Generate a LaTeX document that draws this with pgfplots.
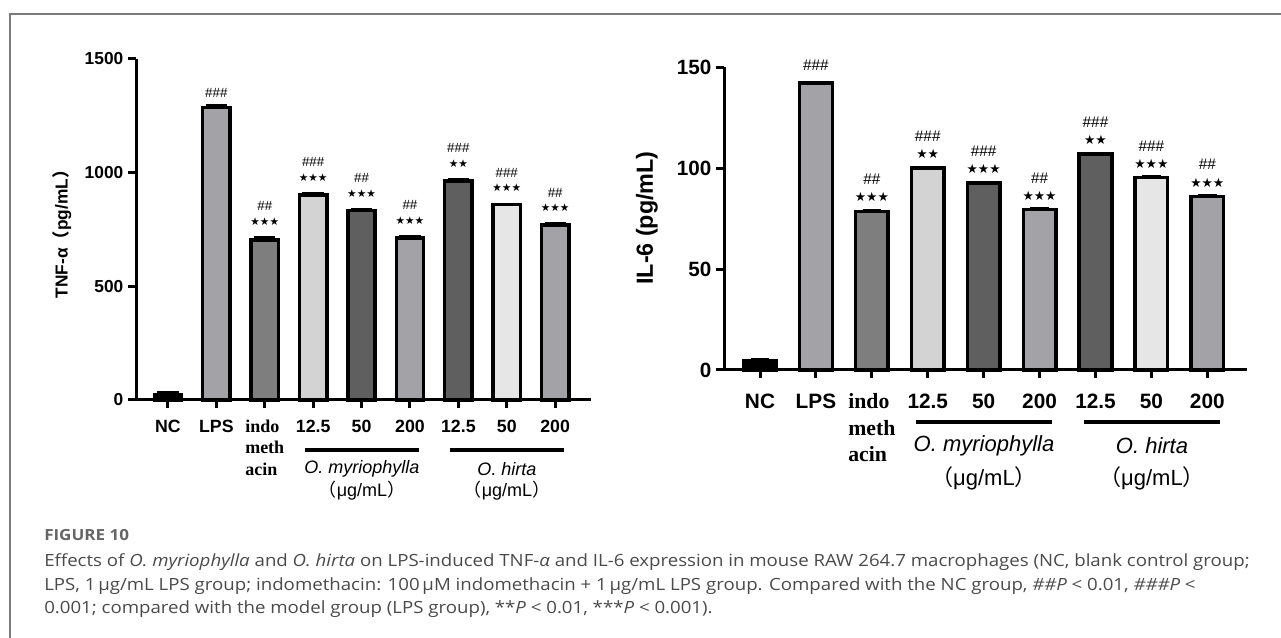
\documentclass[border=0pt]{standalone}
\usepackage{fontspec}
\setmainfont{Liberation Sans}
\newfontfamily\timesf{Liberation Serif}
\newfontfamily\cjk{Noto Sans CJK SC}
\newfontfamily\capfont[FakeStretch=1.11]{Open Sans}
\newfontfamily\symfont{DejaVu Sans}
\usepackage{pgfplots}
\pgfplotsset{compat=1.18}

\definecolor{cLPS}{HTML}{A2A2A7}
\definecolor{cIndo}{HTML}{7E7E7E}
\definecolor{cLight}{HTML}{D3D3D3}
\definecolor{cDark}{HTML}{5F5F5F}
\definecolor{cVlight}{HTML}{E6E6E6}
\definecolor{capgray}{HTML}{4A4A4A}
\definecolor{figgray}{HTML}{666666}
\definecolor{framegray}{HTML}{7A7A7A}

\newcommand\starsL[1]{{\symfont\fontsize{8}{9}\selectfont #1}}
\newcommand\hashL[1]{{\fontsize{10}{11}\selectfont #1}}
\newcommand\starsR[1]{{\symfont\fontsize{9.5}{10}\selectfont #1}}
\newcommand\hashR[1]{{\fontsize{11.5}{12}\selectfont #1}}

\pgfplotsset{
  mybars/.style={
    scale only axis, clip=false,
    axis x line*=bottom, axis y line*=left,
    axis line style={line width=2.25pt, black},
    tick align=outside,
    tick style={line width=2.25pt, black},
    major tick length=6pt,
    ybar, bar shift=0pt,
    xtick={0,...,8},
    /pgf/number format/assume math mode=true,
    /pgf/number format/1000 sep={},
    every axis plot/.append style={draw=black, line width=2.6pt},
    error bars/y dir=plus, error bars/y explicit,
    error bars/error bar style={line width=1.6pt, black},
  },
}

\begin{document}
\begin{tikzpicture}[x=0.75pt,y=0.75pt]
\path[use as bounding box] (0,0) rectangle (1281,638);
\draw[framegray, line width=1.1pt] (10,-10) -- (10,624) -- (1300,624);

% ---------------- Left: TNF-alpha ----------------
\begin{axis}[mybars,
  at={(102pt,178.5pt)}, anchor=south west,
  width=341.25pt, height=255.75pt,
  xmin=-0.66, xmax=8.74, ymin=0, ymax=1500,
  ytick={0,500,1000,1500},
  bar width=20.5pt,
  yticklabel style={font=\bfseries\fontsize{13}{15}\selectfont},
  xticklabel style={font=\bfseries\fontsize{13.3}{15}\selectfont, anchor=north, text height=9.6pt, yshift=-5pt},
  xticklabels={NC, LPS, {\timesf\fontsize{13.5}{16.1}\selectfont\begin{tabular}[t]{@{}l@{}}indo\\meth\\acin\end{tabular}}, 12.5, 50, 200, 12.5, 50, 200},
  error bars/error mark options={rotate=90, mark size=8pt, line width=2pt, black},
]
\addplot[fill=black] coordinates {(0,22) +- (0,12)};
\addplot[fill=cLPS] coordinates {(1,1286) +- (0,8) (5,713) +- (0,6) (8,770) +- (0,5)};
\addplot[fill=cIndo] coordinates {(2,704) +- (0,10)};
\addplot[fill=cLight] coordinates {(3,902) +- (0,6)};
\addplot[fill=cDark] coordinates {(4,833) +- (0,5) (6,963) +- (0,6)};
\addplot[fill=cVlight] coordinates {(7,859) +- (0,3)};

\node at (axis cs:1,1294) [yshift=9.5pt] {\hashL{\#\#\#}};
\node at (axis cs:2,714) [yshift=12pt] {\starsL{★★★}};
\node at (axis cs:2,714) [yshift=23.5pt] {\hashL{\#\#}};
\node at (axis cs:3,908) [yshift=12pt] {\starsL{★★★}};
\node at (axis cs:3,908) [yshift=23.5pt] {\hashL{\#\#\#}};
\node at (axis cs:4,838) [yshift=12pt] {\starsL{★★★}};
\node at (axis cs:4,838) [yshift=23.5pt] {\hashL{\#\#}};
\node at (axis cs:5,719) [yshift=12pt] {\starsL{★★★}};
\node at (axis cs:5,719) [yshift=23.5pt] {\hashL{\#\#}};
\node at (axis cs:6,969) [yshift=12pt] {\starsL{★★}};
\node at (axis cs:6,969) [yshift=23.5pt] {\hashL{\#\#\#}};
\node at (axis cs:7,862) [yshift=12pt] {\starsL{★★★}};
\node at (axis cs:7,862) [yshift=23.5pt] {\hashL{\#\#\#}};
\node at (axis cs:8,775) [yshift=12pt] {\starsL{★★★}};
\node at (axis cs:8,775) [yshift=23.5pt] {\hashL{\#\#}};
\end{axis}

\node[rotate=90, font=\bfseries\fontsize{13}{14}\selectfont] at (62,408) {TNF-α{\cjk（}pg/mL{\cjk）}};
\draw[line width=2.5pt] (305,188) -- (419,188);
\draw[line width=2.5pt] (450,188) -- (564,188);
\node[font=\itshape\fontsize{13.5}{15}\selectfont] at (362,169) {O. myriophylla};
\node[font=\itshape\fontsize{13.5}{15}\selectfont] at (507,169) {O. hirta};
\node[font=\fontsize{13.5}{15}\selectfont] at (362,147) {{\cjk（}μg/mL{\cjk）}};
\node[font=\fontsize{13.5}{15}\selectfont] at (507,147) {{\cjk（}μg/mL{\cjk）}};

% ---------------- Right: IL-6 ----------------
\begin{axis}[mybars,
  at={(543pt,201pt)}, anchor=south west,
  width=392.25pt, height=226.9pt,
  xmin=-0.644, xmax=8.71, ymin=0, ymax=150,
  ytick={0,50,100,150},
  bar width=24.5pt,
  yticklabel style={font=\bfseries\fontsize{15.5}{17}\selectfont},
  xticklabel style={font=\bfseries\fontsize{15.6}{17}\selectfont, anchor=north, text height=11.3pt, yshift=-8pt},
  xticklabels={NC, LPS, {\timesf\fontsize{16.3}{20}\selectfont\begin{tabular}[t]{@{}l@{}}indo\\meth\\acin\end{tabular}}, 12.5, 50, 200, 12.5, 50, 200},
  error bars/error mark options={rotate=90, mark size=7pt, line width=2pt, black},
]
\addplot[fill=black] coordinates {(0,4.5) +- (0,0.8)};
\addplot[fill=cLPS] coordinates {(1,142.4) +- (0,0.4) (5,79.5) +- (0,0.6) (8,86.1) +- (0,0.5)};
\addplot[fill=cIndo] coordinates {(2,78.6) +- (0,0.6)};
\addplot[fill=cLight] coordinates {(3,100.2) +- (0,0.4)};
\addplot[fill=cDark] coordinates {(4,92.7) +- (0,0.4) (6,107.1) +- (0,0.5)};
\addplot[fill=cVlight] coordinates {(7,95.5) +- (0,0.3)};

\node at (axis cs:1,143) [yshift=12pt] {\hashR{\#\#\#}};
\node at (axis cs:2,79.5) [yshift=9.5pt] {\starsR{★★★}};
\node at (axis cs:2,79.5) [yshift=23pt] {\hashR{\#\#}};
\node at (axis cs:3,100.8) [yshift=9.5pt] {\starsR{★★}};
\node at (axis cs:3,100.8) [yshift=23pt] {\hashR{\#\#\#}};
\node at (axis cs:4,93.2) [yshift=9.5pt] {\starsR{★★★}};
\node at (axis cs:4,93.2) [yshift=23pt] {\hashR{\#\#\#}};
\node at (axis cs:5,80.1) [yshift=9.5pt] {\starsR{★★★}};
\node at (axis cs:5,80.1) [yshift=23pt] {\hashR{\#\#}};
\node at (axis cs:6,107.6) [yshift=9.5pt] {\starsR{★★}};
\node at (axis cs:6,107.6) [yshift=23pt] {\hashR{\#\#\#}};
\node at (axis cs:7,95.8) [yshift=9.5pt] {\starsR{★★★}};
\node at (axis cs:7,95.8) [yshift=23pt] {\hashR{\#\#\#}};
\node at (axis cs:8,86.6) [yshift=9.5pt] {\starsR{★★★}};
\node at (axis cs:8,86.6) [yshift=23pt] {\hashR{\#\#}};
\end{axis}

\node[rotate=90, font=\bfseries\fontsize{17.5}{19}\selectfont] at (647,420) {IL-6 (pg/mL)};
\draw[line width=2.7pt] (916,216) -- (1052,216);
\draw[line width=2.7pt] (1084,216) -- (1220,216);
\node[font=\itshape\fontsize{16.5}{18}\selectfont] at (984,192) {O. myriophylla};
\node[font=\itshape\fontsize{16.5}{18}\selectfont] at (1152,192) {O. hirta};
\node[font=\fontsize{16.5}{18}\selectfont] at (984,160) {{\cjk（}μg/mL{\cjk）}};
\node[font=\fontsize{16.5}{18}\selectfont] at (1152,160) {{\cjk（}μg/mL{\cjk）}};

% ---------------- Caption ----------------
\node[anchor=base west, inner sep=0pt, text=figgray, font=\capfont\bfseries\fontsize{11.5}{13}\selectfont] at (44,97) {FIGURE 10};
\begin{scope}[every node/.style={anchor=base west, inner sep=0pt, text=capgray, font=\capfont\fontsize{12.6}{14}\selectfont}]
\node at (44,71) {Effects of \textit{O. myriophylla} and \textit{O. hirta} on LPS-induced TNF-\textit{α} and IL-6 expression in mouse RAW 264.7 macrophages (NC, blank control group;};
\node at (44,47.5) {LPS, 1\,μg/mL LPS group; indomethacin: 100\,μM indomethacin + 1\,μg/mL LPS group. Compared with the NC group, \textit{\#\#P} < 0.01, \textit{\#\#\#P} <};
\node at (44,24) {0.001; compared with the model group (LPS group), **\textit{P} < 0.01, ***\textit{P} < 0.001).};
\end{scope}
\end{tikzpicture}
\end{document}
